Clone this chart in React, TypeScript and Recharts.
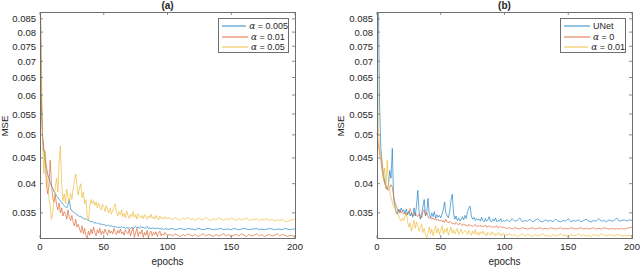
import React from "react";
import { LineChart, Line, XAxis, YAxis } from "recharts";

// epochs 0..100 every epoch, then every 2nd epoch to 200
const epochs = [
  ...Array.from({ length: 101 }, (_, i) => i),
  ...Array.from({ length: 50 }, (_, i) => 102 + 2 * i),
];

const yTicks = [0.035, 0.04, 0.045, 0.05, 0.055, 0.06, 0.065, 0.07, 0.075, 0.08, 0.085];
const xTicks = [0, 50, 100, 150, 200];

// panel (a)
const lossA005 = [
  0.110, 0.060, 0.050, 0.0465, 0.0445, 0.0432, 0.0418, 0.0410, 0.0402, 0.0396,
  0.0391, 0.0386, 0.0383, 0.0378, 0.0376, 0.0372, 0.0370, 0.0367, 0.0364, 0.0362,
  0.0360, 0.0358, 0.0364, 0.0372, 0.0356, 0.0353, 0.0352, 0.0350, 0.0349, 0.0347,
  0.0346, 0.0344, 0.0345, 0.0342, 0.0341, 0.0340, 0.0341, 0.0339, 0.0338, 0.0337,
  0.0336, 0.0337, 0.0335, 0.0334, 0.0335, 0.0333, 0.0334, 0.0332, 0.0333, 0.0331,
  0.0332, 0.0331, 0.0330, 0.0331, 0.0330, 0.0329, 0.0330, 0.0329, 0.0328, 0.0329,
  0.0328, 0.0327, 0.0328, 0.0327, 0.0329, 0.0327, 0.0328, 0.0326, 0.0327, 0.0326,
  0.0327, 0.0326, 0.0328, 0.0326, 0.0327, 0.0329, 0.0327, 0.0328, 0.0326, 0.0329,
  0.0327, 0.0328, 0.0326, 0.0327, 0.0329, 0.0326, 0.0327, 0.0325, 0.0327, 0.0326,
  0.0326, 0.0325, 0.0327, 0.0325, 0.0326, 0.0325, 0.0326, 0.0324, 0.0326, 0.0325,
  0.0325,
  0.0325, 0.0326, 0.0324, 0.0325, 0.0326, 0.0325, 0.0324, 0.0326, 0.0325, 0.0325,
  0.0324, 0.0326, 0.0325, 0.0324, 0.0325, 0.0326, 0.0325, 0.0324, 0.0325, 0.0325,
  0.0326, 0.0324, 0.0325, 0.0325, 0.0324, 0.0326, 0.0325, 0.0324, 0.0325, 0.0326,
  0.0325, 0.0324, 0.0325, 0.0325, 0.0326, 0.0324, 0.0325, 0.0324, 0.0325, 0.0326,
  0.0325, 0.0324, 0.0325, 0.0325, 0.0324, 0.0326, 0.0325, 0.0324, 0.0325, 0.0325,
];

const lossA01 = [
  0.105, 0.058, 0.049, 0.0468, 0.0460, 0.0400, 0.0382, 0.0395, 0.0445, 0.0400,
  0.0375, 0.0368, 0.0380, 0.0362, 0.0355, 0.0366, 0.0350, 0.0358, 0.0345, 0.0352,
  0.0348, 0.0340, 0.0355, 0.0343, 0.0338, 0.0346, 0.0335, 0.0330, 0.0340, 0.0328,
  0.0332, 0.0325, 0.0320, 0.0330, 0.0318, 0.0326, 0.0315, 0.0312, 0.0322, 0.0316,
  0.0325, 0.0318, 0.0328, 0.0320, 0.0315, 0.0324, 0.0319, 0.0326, 0.0317, 0.0322,
  0.0318, 0.0325, 0.0320, 0.0316, 0.0324, 0.0319, 0.0322, 0.0318, 0.0326, 0.0320,
  0.0317, 0.0323, 0.0319, 0.0325, 0.0318, 0.0321, 0.0316, 0.0324, 0.0320, 0.0318,
  0.0325, 0.0315, 0.0322, 0.0327, 0.0313, 0.0320, 0.0326, 0.0314, 0.0321, 0.0318,
  0.0324, 0.0313, 0.0320, 0.0316, 0.0323, 0.0312, 0.0319, 0.0322, 0.0315, 0.0320,
  0.0317, 0.0321, 0.0314, 0.0319, 0.0322, 0.0315, 0.0318, 0.0316, 0.0320, 0.0317,
  0.0316,
  0.0317, 0.0315, 0.0318, 0.0316, 0.0314, 0.0317, 0.0315, 0.0318, 0.0316, 0.0315,
  0.0317, 0.0314, 0.0316, 0.0318, 0.0315, 0.0317, 0.0316, 0.0314, 0.0317, 0.0315,
  0.0316, 0.0318, 0.0315, 0.0317, 0.0314, 0.0316, 0.0317, 0.0315, 0.0318, 0.0316,
  0.0314, 0.0317, 0.0315, 0.0316, 0.0318, 0.0315, 0.0317, 0.0314, 0.0316, 0.0317,
  0.0315, 0.0316, 0.0318, 0.0315, 0.0317, 0.0316, 0.0314, 0.0316, 0.0315, 0.0314,
];

const lossA05 = [
  0.120, 0.070, 0.0490, 0.0418, 0.0465, 0.0430, 0.0400, 0.0375, 0.0360, 0.0340,
  0.0352, 0.0375, 0.0395, 0.0410, 0.0385, 0.0440, 0.0475, 0.0400, 0.0370, 0.0382,
  0.0365, 0.0390, 0.0375, 0.0368, 0.0383, 0.0372, 0.0390, 0.0405, 0.0418, 0.0395,
  0.0380, 0.0392, 0.0400, 0.0375, 0.0385, 0.0365, 0.0372, 0.0345, 0.0338, 0.0360,
  0.0372, 0.0365, 0.0370, 0.0362, 0.0368, 0.0358, 0.0366, 0.0360, 0.0355, 0.0364,
  0.0360, 0.0352, 0.0362, 0.0355, 0.0350, 0.0358, 0.0348, 0.0353, 0.0360, 0.0365,
  0.0350, 0.0345, 0.0352, 0.0347, 0.0355, 0.0344, 0.0349, 0.0342, 0.0353, 0.0346,
  0.0341, 0.0348, 0.0344, 0.0352, 0.0343, 0.0347, 0.0340, 0.0349, 0.0345, 0.0342,
  0.0346, 0.0341, 0.0347, 0.0343, 0.0340, 0.0345, 0.0342, 0.0348, 0.0341, 0.0344,
  0.0340, 0.0346, 0.0342, 0.0339, 0.0345, 0.0341, 0.0343, 0.0340, 0.0344, 0.0341,
  0.0341,
  0.0342, 0.0339, 0.0343, 0.0340, 0.0338, 0.0342, 0.0340, 0.0343, 0.0339, 0.0341,
  0.0338, 0.0342, 0.0340, 0.0339, 0.0343, 0.0340, 0.0338, 0.0341, 0.0339, 0.0342,
  0.0340, 0.0338, 0.0341, 0.0339, 0.0342, 0.0340, 0.0338, 0.0341, 0.0339, 0.0340,
  0.0342, 0.0338, 0.0340, 0.0339, 0.0341, 0.0338, 0.0340, 0.0339, 0.0341, 0.0338,
  0.0340, 0.0337, 0.0339, 0.0338, 0.0340, 0.0337, 0.0336, 0.0338, 0.0339, 0.0340,
];

// panel (b)
const lossUNet = [
  0.125, 0.095, 0.058, 0.0470, 0.0440, 0.0418, 0.0405, 0.0395, 0.0390, 0.0398,
  0.0425, 0.0410, 0.0470, 0.0375, 0.0360, 0.0352, 0.0348, 0.0356, 0.0350, 0.0358,
  0.0352, 0.0355, 0.0349, 0.0356, 0.0347, 0.0353, 0.0345, 0.0350, 0.0343, 0.0358,
  0.0345, 0.0362, 0.0388, 0.0352, 0.0340, 0.0348, 0.0360, 0.0372, 0.0345, 0.0350,
  0.0374, 0.0348, 0.0342, 0.0350, 0.0344, 0.0352, 0.0341, 0.0347, 0.0343, 0.0346,
  0.0342, 0.0348, 0.0355, 0.0368, 0.0350, 0.0345, 0.0342, 0.0352, 0.0370, 0.0381,
  0.0350, 0.0340, 0.0345, 0.0338, 0.0342, 0.0337, 0.0340, 0.0344, 0.0339, 0.0346,
  0.0341, 0.0352, 0.0358, 0.0361, 0.0345, 0.0340, 0.0343, 0.0338, 0.0341, 0.0339,
  0.0340, 0.0337, 0.0343, 0.0338, 0.0336, 0.0341, 0.0337, 0.0339, 0.0344, 0.0337,
  0.0336, 0.0340, 0.0337, 0.0342, 0.0336, 0.0338, 0.0337, 0.0341, 0.0336, 0.0338,
  0.0337,
  0.0339, 0.0336, 0.0341, 0.0337, 0.0338, 0.0342, 0.0336, 0.0338, 0.0337, 0.0340,
  0.0336, 0.0338, 0.0341, 0.0337, 0.0336, 0.0339, 0.0337, 0.0338, 0.0336, 0.0340,
  0.0337, 0.0336, 0.0338, 0.0337, 0.0341, 0.0336, 0.0338, 0.0337, 0.0339, 0.0336,
  0.0338, 0.0340, 0.0337, 0.0336, 0.0338, 0.0337, 0.0341, 0.0337, 0.0338, 0.0336,
  0.0339, 0.0337, 0.0338, 0.0342, 0.0337, 0.0338, 0.0339, 0.0337, 0.0339, 0.0338,
];

const lossB0 = [
  0.0505, 0.0480, 0.0460, 0.0445, 0.0425, 0.0410, 0.0400, 0.0395, 0.0390, 0.0388,
  0.0392, 0.0398, 0.0394, 0.0380, 0.0368, 0.0362, 0.0356, 0.0352, 0.0355, 0.0350,
  0.0352, 0.0348, 0.0350, 0.0346, 0.0349, 0.0352, 0.0357, 0.0350, 0.0345, 0.0347,
  0.0350, 0.0346, 0.0344, 0.0348, 0.0345, 0.0342, 0.0352, 0.0355, 0.0347, 0.0350,
  0.0344, 0.0341, 0.0343, 0.0340, 0.0342, 0.0339, 0.0341, 0.0338, 0.0340, 0.0337,
  0.0339, 0.0336, 0.0338, 0.0335, 0.0340, 0.0336, 0.0334, 0.0337, 0.0335, 0.0333,
  0.0334, 0.0332, 0.0335, 0.0333, 0.0331, 0.0334, 0.0332, 0.0330, 0.0333, 0.0331,
  0.0331, 0.0329, 0.0332, 0.0330, 0.0331, 0.0329, 0.0330, 0.0332, 0.0329, 0.0330,
  0.0329, 0.0331, 0.0328, 0.0330, 0.0329, 0.0331, 0.0328, 0.0329, 0.0330, 0.0328,
  0.0329, 0.0327, 0.0329, 0.0328, 0.0330, 0.0327, 0.0328, 0.0329, 0.0327, 0.0328,
  0.0327,
  0.0326, 0.0327, 0.0325, 0.0327, 0.0326, 0.0325, 0.0327, 0.0326, 0.0325, 0.0326,
  0.0327, 0.0325, 0.0326, 0.0327, 0.0325, 0.0326, 0.0325, 0.0327, 0.0326, 0.0325,
  0.0326, 0.0327, 0.0325, 0.0326, 0.0325, 0.0327, 0.0326, 0.0325, 0.0326, 0.0327,
  0.0325, 0.0326, 0.0325, 0.0326, 0.0327, 0.0325, 0.0326, 0.0325, 0.0327, 0.0326,
  0.0325, 0.0326, 0.0325, 0.0326, 0.0325, 0.0326, 0.0325, 0.0326, 0.0327, 0.0328,
];

const lossB01 = [
  0.115, 0.052, 0.0470, 0.0455, 0.0440, 0.0410, 0.0430, 0.0390, 0.0445, 0.0400,
  0.0386, 0.0375, 0.0368, 0.0360, 0.0362, 0.0348, 0.0353, 0.0345, 0.0340, 0.0337,
  0.0342, 0.0338, 0.0345, 0.0350, 0.0336, 0.0328, 0.0334, 0.0322, 0.0330, 0.0338,
  0.0326, 0.0336, 0.0330, 0.0322, 0.0328, 0.0333, 0.0320, 0.0326, 0.0316, 0.0312,
  0.0320, 0.0328, 0.0318, 0.0325, 0.0315, 0.0322, 0.0330, 0.0319, 0.0326, 0.0317,
  0.0323, 0.0330, 0.0318, 0.0325, 0.0320, 0.0327, 0.0316, 0.0322, 0.0328, 0.0319,
  0.0324, 0.0318, 0.0322, 0.0326, 0.0317, 0.0321, 0.0325, 0.0318, 0.0320, 0.0323,
  0.0321, 0.0317, 0.0323, 0.0319, 0.0316, 0.0322, 0.0318, 0.0324, 0.0317, 0.0320,
  0.0316, 0.0321, 0.0318, 0.0322, 0.0317, 0.0319, 0.0315, 0.0320, 0.0318, 0.0316,
  0.0321, 0.0317, 0.0319, 0.0315, 0.0318, 0.0320, 0.0316, 0.0318, 0.0315, 0.0319,
  0.0317,
  0.0316, 0.0318, 0.0315, 0.0317, 0.0314, 0.0316, 0.0318, 0.0315, 0.0317, 0.0316,
  0.0314, 0.0317, 0.0315, 0.0316, 0.0318, 0.0315, 0.0316, 0.0314, 0.0317, 0.0315,
  0.0316, 0.0318, 0.0315, 0.0316, 0.0314, 0.0317, 0.0315, 0.0316, 0.0318, 0.0315,
  0.0317, 0.0315, 0.0316, 0.0314, 0.0317, 0.0316, 0.0315, 0.0318, 0.0316, 0.0315,
  0.0317, 0.0316, 0.0315, 0.0317, 0.0316, 0.0315, 0.0316, 0.0315, 0.0316, 0.0315,
];

const FONT = '"Liberation Sans", Arial, Helvetica, sans-serif';
const INK = "#262626";
const AXIS = "#6f6f6f";
const BLUE = "#0072BD";
const RED = "#D95319";
const YELLOW = "#EDB120";

const W = 320;
const H = 267;
const TOP = 12;
const BOTTOM = 238;

const fmt = (v: number) => String(Number(v.toFixed(3)));

type Series = { key: string; name: string; alpha?: boolean; color: string; values: number[] };

function makeRows(series: Series[]) {
  return epochs.map((e, i) => {
    const row: any = { epoch: e };
    series.forEach((s) => (row[s.key] = s.values[i]));
    return row;
  });
}

function Panel(props: {
  title: string;
  x: number;
  plotLeft: number;
  plotRight: number;
  series: Series[];
  legend: { left: number; width: number; lineW: number };
  mseX: number;
}) {
  const { title, x, plotLeft, plotRight, series, legend, mseX } = props;
  const rows = makeRows(series);

  const YTick = (p: any) => (
    <g>
      <line x1={plotLeft} x2={plotLeft + 3} y1={p.y} y2={p.y} stroke={AXIS} strokeWidth={0.8} />
      <line x1={plotRight - 3} x2={plotRight} y1={p.y} y2={p.y} stroke={AXIS} strokeWidth={0.8} />
      <text x={p.x} y={p.y} textAnchor="end" dominantBaseline="central" fontSize={9.5} fill={INK} fontFamily={FONT}>
        {fmt(p.payload.value)}
      </text>
    </g>
  );

  const XTick = (p: any) => (
    <g>
      <line x1={p.x} x2={p.x} y1={BOTTOM - 3} y2={BOTTOM} stroke={AXIS} strokeWidth={0.8} />
      <line x1={p.x} x2={p.x} y1={TOP} y2={TOP + 3} stroke={AXIS} strokeWidth={0.8} />
      <text x={p.x} y={p.y} dy="0.71em" textAnchor="middle" fontSize={9.5} fill={INK} fontFamily={FONT}>
        {p.payload.value}
      </text>
    </g>
  );

  return (
    <div style={{ position: "absolute", left: x, top: 0, width: W, height: H }}>
      <LineChart
        width={W}
        height={H}
        data={rows}
        margin={{ top: TOP, right: W - plotRight, left: 0, bottom: 0 }}
      >
        <XAxis
          dataKey="epoch"
          type="number"
          domain={[0, 200]}
          ticks={xTicks}
          height={H - BOTTOM}
          axisLine={false}
          tickLine={false}
          tickSize={0}
          tickMargin={5}
          tick={XTick}
          interval={0}
          label={{ value: "epochs", position: "insideBottom", offset: 2, fontSize: 10, fill: INK, fontFamily: FONT }}
        />
        <YAxis
          type="number"
          scale="log"
          domain={[0.0312, 0.0877]}
          allowDataOverflow
          ticks={yTicks}
          width={plotLeft}
          axisLine={false}
          tickLine={false}
          tickSize={0}
          tickMargin={4}
          tick={YTick}
          interval={0}
        />
        {series.map((s) => (
          <Line
            key={s.key}
            dataKey={s.key}
            type="linear"
            stroke={s.color}
            strokeWidth={0.8}
            strokeOpacity={0.75}
            dot={false}
            isAnimationActive={false}
          />
        ))}
      </LineChart>

      {/* axes box */}
      <div
        style={{
          position: "absolute",
          left: plotLeft,
          top: TOP,
          width: plotRight - plotLeft - 1,
          height: BOTTOM - TOP - 1,
          border: `1px solid ${AXIS}`,
          pointerEvents: "none",
        }}
      />

      <div
        style={{
          position: "absolute",
          left: plotLeft,
          top: 0,
          width: plotRight - plotLeft,
          textAlign: "center",
          fontFamily: FONT,
          fontWeight: "bold",
          fontSize: 10,
          lineHeight: "11px",
          color: INK,
        }}
      >
        {title}
      </div>

      <div
        style={{
          position: "absolute",
          left: mseX - 20,
          top: 120,
          width: 40,
          height: 12,
          lineHeight: "12px",
          textAlign: "center",
          transform: "rotate(-90deg)",
          fontFamily: FONT,
          fontSize: 9.5,
          color: INK,
        }}
      >
        MSE
      </div>

      <div
        style={{
          position: "absolute",
          left: legend.left,
          top: 18,
          width: legend.width,
          height: 35,
          border: `1px solid ${AXIS}`,
          background: "#fff",
          boxSizing: "border-box",
          padding: "2px 0 0 3px",
          fontFamily: FONT,
          fontSize: 9,
          color: INK,
        }}
      >
        {series.map((s) => (
          <div key={s.key} style={{ display: "flex", alignItems: "center", height: 10.5 }}>
            <svg width={legend.lineW} height={4} style={{ marginRight: 3 }}>
              <line x1={0} x2={legend.lineW} y1={2} y2={2} stroke={s.color} strokeOpacity={0.7} strokeWidth={1.2} />
            </svg>
            <span style={{ whiteSpace: "nowrap" }}>
              {s.alpha ? (
                <>
                  <span style={{ fontFamily: '"DejaVu Serif", serif', fontStyle: "italic" }}>α</span>
                  {" = " + s.name}
                </>
              ) : (
                s.name
              )}
            </span>
          </div>
        ))}
      </div>
    </div>
  );
}

const seriesA: Series[] = [
  { key: "a005", name: "0.005", alpha: true, color: BLUE, values: lossA005 },
  { key: "a01", name: "0.01", alpha: true, color: RED, values: lossA01 },
  { key: "a05", name: "0.05", alpha: true, color: YELLOW, values: lossA05 },
];

const seriesB: Series[] = [
  { key: "unet", name: "UNet", color: BLUE, values: lossUNet },
  { key: "b0", name: "0", alpha: true, color: RED, values: lossB0 },
  { key: "b01", name: "0.01", alpha: true, color: YELLOW, values: lossB01 },
];

export default function App() {
  return (
    <div style={{ position: "absolute", left: 0, top: 0, width: 640, height: 267, background: "#fff", overflow: "hidden" }}>
      <Panel
        title="(a)"
        x={0}
        plotLeft={40}
        plotRight={295}
        series={seriesA}
        legend={{ left: 218, width: 71, lineW: 26 }}
        mseX={5}
      />
      <Panel
        title="(b)"
        x={320}
        plotLeft={57}
        plotRight={312}
        series={seriesB}
        legend={{ left: 240, width: 66, lineW: 26 }}
        mseX={21}
      />
    </div>
  );
}
